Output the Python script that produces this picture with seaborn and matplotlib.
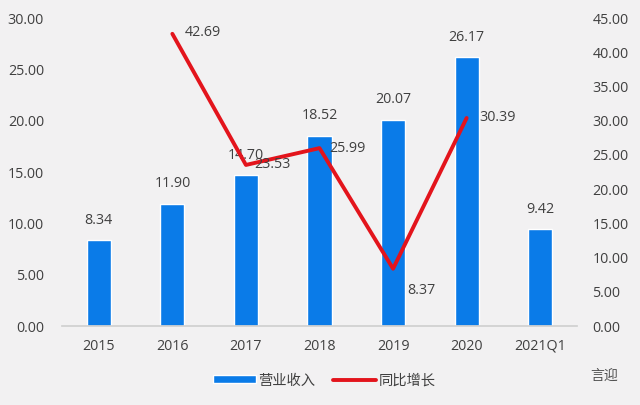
import matplotlib
matplotlib.use("Agg")
import matplotlib.pyplot as plt
import seaborn as sns
import pandas as pd
import numpy as np

categories = ["2015", "2016", "2017", "2018", "2019", "2020", "2021Q1"]
revenue = [8.34, 11.90, 14.70, 18.52, 20.07, 26.17, 9.42]
growth = [np.nan, 42.69, 23.53, 25.99, 8.37, 30.39, np.nan]

sns.set_theme(style="white")
plt.rcParams['font.family'] = ['Open Sans', 'Noto Sans CJK SC', 'DejaVu Sans']

bg = "#F2F1F2"
bar_color = "#0A7BE8"
line_color = "#E3141C"
text_color = "#404040"
fs = 10.3

fig = plt.figure(figsize=(6.4, 4.05), dpi=100, facecolor=bg)
ax = fig.add_axes([62/640, 1-326/405, (577-62)/640, (326-18)/405])
ax.set_facecolor(bg)

df = pd.DataFrame({"cat": categories, "rev": revenue, "growth": growth})
sns.barplot(data=df, x="cat", y="rev", color=bar_color, width=0.33, ax=ax,
            saturation=1, label="营业收入")
ax.set_ylim(0, 30)
ax.set_yticks(np.arange(0, 30.1, 5))
ax.set_yticklabels([f"{v:.2f}" for v in np.arange(0, 30.1, 5)], color=text_color, fontsize=fs)
ax.set_xlabel("")
ax.set_ylabel("")
ax.tick_params(axis="x", colors=text_color, labelsize=fs, length=0, pad=9)
ax.tick_params(axis="y", length=0, pad=13)
for s in ["top", "right", "left"]:
    ax.spines[s].set_visible(False)
ax.spines["bottom"].set_color("#D0D0D0")

for i, v in enumerate(revenue):
    ax.annotate(f"{v:.2f}", (i, v), xytext=(0, 9), textcoords="offset points",
                ha="center", va="bottom", fontsize=fs, color=text_color)

ax2 = ax.twinx()
sns.lineplot(x=np.arange(len(categories)), y=growth, color=line_color, linewidth=2.8,
             ax=ax2, label="同比增长", legend=False)
ax2.set_ylim(0, 45)
ax2.set_yticks(np.arange(0, 45.1, 5))
ax2.set_yticklabels([f"{v:.2f}" for v in np.arange(0, 45.1, 5)], color=text_color, fontsize=fs)
ax2.tick_params(axis="y", length=0, pad=11)
for s in ["top", "right", "left", "bottom"]:
    ax2.spines[s].set_visible(False)
ax2.set_ylabel("")

# label offsets in points (dx, dy)
offsets = {1: (9, 1), 2: (6, 0), 3: (7, 0), 4: (10, -16), 5: (9, 0)}
for i, g in enumerate(growth):
    if not np.isnan(g):
        dx, dy = offsets[i]
        ax2.annotate(f"{g:.2f}", (i, g), xytext=(dx, dy), textcoords="offset points",
                     ha="left", va="center", fontsize=fs, color=text_color)

ax.set_xlim(-0.5, len(categories) - 0.5)

h1, l1 = ax.get_legend_handles_labels()
h2, l2 = ax2.get_legend_handles_labels()
if ax.get_legend() is not None:
    ax.get_legend().remove()
fig.legend(h1 + h2, l1 + l2, loc="center", bbox_to_anchor=(324/640, 1-381/405), ncol=2,
           frameon=False, fontsize=10.3, handlelength=3.0, handleheight=0.5,
           columnspacing=1.2, handletextpad=0.2, labelcolor=text_color)

fig.text(604/640, 1-376/405, "言迎", fontsize=10, color="#505050", ha="center", va="center")

fig.savefig("out.png", dpi=100, facecolor=bg)
